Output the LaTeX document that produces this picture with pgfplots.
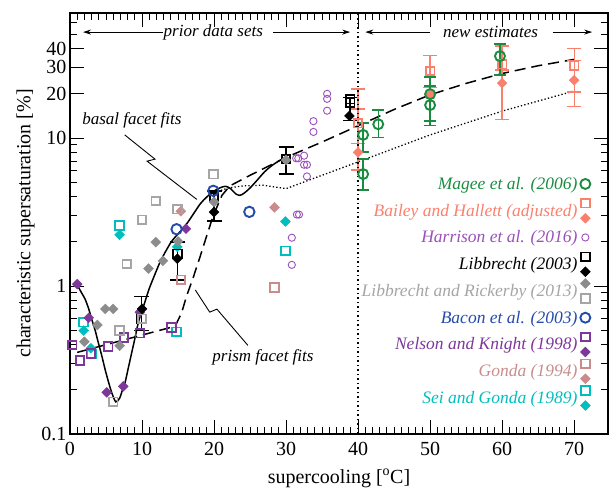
\documentclass[border=0pt]{standalone}
\usepackage{fontspec}
\setmainfont{Liberation Serif}
\usepackage{pgfplots}
\pgfplotsset{compat=1.18}
\usetikzlibrary{arrows.meta}
\definecolor{mgreen}{RGB}{26,140,64}
\definecolor{salm}{RGB}{250,128,110}
\definecolor{harr}{RGB}{155,80,185}
\definecolor{gdia}{RGB}{140,140,140}
\definecolor{gsq}{RGB}{165,165,165}
\definecolor{bacon}{RGB}{35,75,170}
\definecolor{nelson}{RGB}{125,55,155}
\definecolor{gonda}{RGB}{200,140,140}
\definecolor{sei}{RGB}{0,190,190}
\pgfplotsset{
  sq/.style={only marks, mark=square, mark size=4.3pt, line width=1.8pt},
  dm/.style={only marks, mark=square*, mark size=3.5pt, mark options={rotate=45, line width=0.4pt}},
  ci/.style={only marks, mark=o, mark size=5.2pt, line width=1.9pt},
}
\begin{document}
\begin{tikzpicture}
\begin{axis}[
  scale only axis, width=538pt, height=421pt,
  xmin=0, xmax=74.7, ymode=log, ymin=0.1, ymax=70,
  xtick={0,10,...,70}, minor x tick num=9,
  ytick={0.1,1,10,20,30,40}, yticklabels={0.1,1,10,20,30,40},
  minor ytick={0.2,0.3,0.4,0.5,0.6,0.7,0.8,0.9,2,3,4,5,6,7,8,9,50,60},
  tick align=inside, major tick length=14pt, minor tick length=7pt,
  every tick/.style={black, line width=0.9pt},
  axis line style={line width=1.3pt},
  /pgf/number format/assume math mode=true,
  ticklabel style={font=\fontsize{20}{22}\selectfont},
  xticklabel style={yshift=-5pt},
  label style={font=\fontsize{20}{22}\selectfont},
  xlabel style={yshift=-6.5pt},
  xlabel={supercooling [\textsuperscript{o}C]},
  ylabel={characteristic supersaturation [\%]},
  legend style={draw=none, fill=none, at={(0.975,0.63)}, anchor=north east,
    font=\fontsize{17.5}{19}\selectfont\itshape, row sep=0.75pt},
  legend cell align=right, legend plot pos=right,
]
% fit lines
\addplot[black, line width=1.5pt, dash pattern=on 11pt off 6pt, forget plot] coordinates {
(1.0,0.356) (14.6,0.535) (15.5,0.66) (16.2,0.86) (17.0,1.1) (18.1,1.6) (19.0,2.2) (19.9,3.0) (21.1,4.1) (22.2,4.75) (25,5.6) (30,7.4) (35,9.4) (40,12.1) (45,15.6) (50,19.6) (55,23.4) (60,27.3) (65,30.8) (70,34)};
\addplot[black, line width=1.3pt, dash pattern=on 1.3pt off 2.2pt, forget plot] coordinates {
(20.5,4.35) (22,4.6) (24,4.75) (26.8,4.8) (30,4.55) (40,6.9) (50,10.5) (60,15.2) (70,20.8)};
\addplot[black, line width=1.5pt, smooth, forget plot] coordinates {
(1.0,1.02) (1.6,0.9) (2.1,0.815) (2.6,0.7) (3.0,0.6) (3.5,0.5) (3.9,0.42) (4.4,0.34) (4.9,0.27) (5.4,0.22) (5.8,0.19) (6.35,0.165) (6.9,0.175) (7.3,0.2) (7.65,0.223) (8.1,0.28) (8.6,0.36) (9.0,0.44) (9.5,0.57) (10.0,0.68) (10.4,0.78) (11.0,0.96) (11.7,1.17) (12.5,1.45) (13.3,1.72) (14.1,2.0) (15.0,2.25) (16.0,2.55) (17.0,3.0) (18.1,3.6) (19.0,4.0) (19.9,4.35) (20.8,4.6) (21.6,4.72) (22.3,4.55) (23.0,4.2) (23.6,4.1) (24.2,4.25) (25.0,4.6) (26.0,5.2) (27.0,5.9) (28.0,6.5) (29.0,7.0) (30.0,7.4)};
% Gonda (1994)
\addplot[sq, gonda, forget plot] coordinates {(15.4,1.1) (28.4,0.98)};
\addplot[dm, gonda, forget plot] coordinates {(15.4,3.2) (28.4,3.4)};
% Sei and Gonda (1989)
\addplot[sq, sei, forget plot] coordinates {(1.9,0.57) (3.0,0.347) (6.9,2.56) (14.8,0.49) (29.9,1.73)};
\addplot[dm, sei, forget plot] coordinates {(1.9,0.50) (2.9,0.38) (6.9,2.22) (14.9,1.84) (29.9,2.73)};
% Nelson and Knight (1998)
\addplot[sq, nelson, forget plot] coordinates {(0.3,0.40) (1.4,0.313) (2.9,0.35) (5.3,0.39) (7.5,0.45) (9.7,0.48) (14.1,0.526)};
\addplot[dm, nelson, forget plot] coordinates {(1.0,1.03) (2.6,0.61) (5.1,0.191) (7.4,0.21) (9.7,0.664) (16.1,2.44)};
% Libbrecht (2003)
\addplot[sq, black, forget plot, error bars/.cd, y dir=both, y explicit,
  error bar style={line width=1.5pt, black}, error mark options={rotate=90, black, line width=1.5pt, mark size=7.5pt}] coordinates {
(9.9,0.60) += (0,0.25) -= (0,0.10)
(14.9,1.65) += (0,0.34) -= (0,0.55)
(20,4.0) += (0,0.4) -= (0,1.25)
(30,7.2) += (0,1.5) -= (0,1.5)
(38.9,17.3) += (0,1.5) -= (0,4.2)};
\addplot[sq, black, forget plot] coordinates {(38.9,18.3)};
\addplot[dm, black, forget plot] coordinates {(10,0.70) (14.9,1.53) (20,3.16) (38.8,14.1)};
% Libbrecht and Rickerby (2013)
\addplot[sq, gsq, forget plot] coordinates {(6.9,0.50) (6.0,0.165) (7.9,1.41) (10,2.8) (11.9,3.75) (14.9,3.3) (19.9,5.7) (10,0.6)};
\addplot[dm, gdia, forget plot] coordinates {(2.0,0.42) (3.8,0.545) (4.9,0.70) (6.0,0.70) (6.9,0.395) (10.9,1.31) (11.9,1.98) (12.9,1.48) (15,2.0) (20,3.7) (30,7.1)};
% Bacon et al. (2003)
\addplot[ci, bacon, forget plot] coordinates {(14.8,2.42) (19.9,4.4) (24.9,3.17)};
% Harrison et al. (2016)
\addplot[only marks, mark=o, mark size=3.6pt, line width=0.9pt, harr, forget plot] coordinates {
(35.7,19.9) (35.7,18.4) (35.7,15.3) (33.8,13.0) (33.8,11.0) (31.4,7.3) (31.7,7.3) (32.5,7.6) (32.5,6.6) (32.9,6.6) (32.9,5.5) (31.5,3.04) (31.8,3.04) (30.8,2.12) (30.8,1.39)};
% Bailey and Hallett (adjusted)
\addplot[dm, salm, forget plot, error bars/.cd, y dir=both, y explicit,
  error bar style={line width=1.3pt, salm}, error mark options={rotate=90, salm, line width=1.3pt, mark size=7pt}] coordinates {
(40,8.0) += (0,13.4) -= (0,1.93)
(60,23.5) += (0,5.3) -= (0,10.1)
(70,24.6) += (0,9.0) -= (0,8.2)};
\addplot[dm, salm, forget plot] coordinates {(50,19.8)};
\addplot[sq, salm, forget plot, error bars/.cd, y dir=both, y explicit,
  error bar style={line width=1.3pt, salm}, error mark options={rotate=90, salm, line width=1.3pt, mark size=7pt}] coordinates {
(40,12.6) += (0,3.1) -= (0,3.4)
(50,28.4) += (0,7.6) -= (0,6.4)
(60,31.6) += (0,10.3) -= (0,2.8)
(70,31.0) += (0,9.5) -= (0,10.5)};
% Magee et al. (2006)
\addplot[ci, mgreen, mark size=5pt, forget plot, error bars/.cd, y dir=both, y explicit,
  error bar style={line width=1.5pt, mgreen}, error mark options={rotate=90, mgreen, line width=1.5pt, mark size=6pt}] coordinates {
(40.7,10.5) += (0,2.1) -= (0,2.44)
(40.7,5.71) += (0,1.5) -= (0,1.26)
(42.8,12.4) += (0,3.1) -= (0,2.3)
(50,19.8) += (0,6.0) -= (0,6.8)
(50,16.7) += (0,5.8) -= (0,4.5)
(59.7,35.8) += (0,7.3) -= (0,9.1)};
% legend
\addlegendimage{legend image code/.code={\path[draw=none,fill=none] (0pt,-13pt) rectangle (12pt,13pt);
  \draw[mgreen, line width=1.9pt, mark=o, mark size=5pt, only marks] plot coordinates {(6pt,0pt)};}}
\addlegendentry{\textcolor{mgreen}{Magee et al. (2006)}}
\addlegendimage{legend image code/.code={\path[draw=none,fill=none] (0pt,-13pt) rectangle (12pt,13pt);
  \draw[salm, line width=1.8pt, mark=square, mark size=4.3pt, only marks] plot coordinates {(6pt,7.5pt)};
  \draw[salm, fill=salm, line width=0.4pt, mark=square*, mark size=3.5pt, mark options={rotate=45}, only marks] plot coordinates {(6pt,-7.5pt)};}}
\addlegendentry{\textcolor{salm}{Bailey and Hallett (adjusted)}}
\addlegendimage{legend image code/.code={\path[draw=none,fill=none] (0pt,-13pt) rectangle (12pt,13pt);
  \draw[harr, line width=0.9pt, mark=o, mark size=3.6pt, only marks] plot coordinates {(6pt,0pt)};}}
\addlegendentry{\textcolor{harr}{Harrison et al. (2016)}}
\addlegendimage{legend image code/.code={\path[draw=none,fill=none] (0pt,-13pt) rectangle (12pt,13pt);
  \draw[black, line width=1.8pt, mark=square, mark size=4.3pt, only marks] plot coordinates {(6pt,7.5pt)};
  \draw[black, fill=black, line width=0.4pt, mark=square*, mark size=3.5pt, mark options={rotate=45}, only marks] plot coordinates {(6pt,-7.5pt)};}}
\addlegendentry{\textcolor{black}{Libbrecht (2003)}}
\addlegendimage{legend image code/.code={\path[draw=none,fill=none] (0pt,-13pt) rectangle (12pt,13pt);
  \draw[gdia, fill=gdia, line width=0.4pt, mark=square*, mark size=3.5pt, mark options={rotate=45}, only marks] plot coordinates {(6pt,7.5pt)};
  \draw[gsq, line width=1.8pt, mark=square, mark size=4.3pt, only marks] plot coordinates {(6pt,-7.5pt)};}}
\addlegendentry{\textcolor{gsq}{Libbrecht and Rickerby (2013)}}
\addlegendimage{legend image code/.code={\path[draw=none,fill=none] (0pt,-13pt) rectangle (12pt,13pt);
  \draw[bacon, line width=1.9pt, mark=o, mark size=5pt, only marks] plot coordinates {(6pt,0pt)};}}
\addlegendentry{\textcolor{bacon}{Bacon et al. (2003)}}
\addlegendimage{legend image code/.code={\path[draw=none,fill=none] (0pt,-13pt) rectangle (12pt,13pt);
  \draw[nelson, line width=1.8pt, mark=square, mark size=4.3pt, only marks] plot coordinates {(6pt,7.5pt)};
  \draw[nelson, fill=nelson, line width=0.4pt, mark=square*, mark size=3.5pt, mark options={rotate=45}, only marks] plot coordinates {(6pt,-7.5pt)};}}
\addlegendentry{\textcolor{nelson}{Nelson and Knight (1998)}}
\addlegendimage{legend image code/.code={\path[draw=none,fill=none] (0pt,-13pt) rectangle (12pt,13pt);
  \draw[gonda, line width=1.8pt, mark=square, mark size=4.3pt, only marks] plot coordinates {(6pt,7.5pt)};
  \draw[gonda, fill=gonda, line width=0.4pt, mark=square*, mark size=3.5pt, mark options={rotate=45}, only marks] plot coordinates {(6pt,-7.5pt)};}}
\addlegendentry{\textcolor{gonda}{Gonda (1994)}}
\addlegendimage{legend image code/.code={\path[draw=none,fill=none] (0pt,-13pt) rectangle (12pt,13pt);
  \draw[sei, line width=1.8pt, mark=square, mark size=4.3pt, only marks] plot coordinates {(6pt,7.5pt)};
  \draw[sei, fill=sei, line width=0.4pt, mark=square*, mark size=3.5pt, mark options={rotate=45}, only marks] plot coordinates {(6pt,-7.5pt)};}}
\addlegendentry{\textcolor{sei}{Sei and Gonda (1989)}}
% separator and annotations
\draw[black, line width=1.4pt, dash pattern=on 1.5pt off 3pt] (axis cs:40,0.1) -- (axis cs:40,70);
\begin{scope}[font=\fontsize{17}{19}\selectfont\itshape]
\node at (axis cs:19.9,52) {prior data sets};
\draw[line width=0.9pt, -{Stealth[length=8pt,width=5pt]}] (axis cs:12.9,52) -- (axis cs:1.8,52);
\draw[line width=0.9pt, -{Stealth[length=8pt,width=5pt]}] (axis cs:28.2,52) -- (axis cs:38.9,52);
\node at (axis cs:58.4,52) {new estimates};
\draw[line width=0.9pt, -{Stealth[length=8pt,width=5pt]}] (axis cs:50,52) -- (axis cs:41,52);
\draw[line width=0.9pt, -{Stealth[length=8pt,width=5pt]}] (axis cs:67,52) -- (axis cs:72.5,52);
\node at (axis cs:8.6,13.1) {basal facet fits};
\draw[line width=0.9pt] (axis cs:7.6,10.5) -- (axis cs:11.8,7.2) -- (axis cs:10.7,6.98) -- (axis cs:17.6,3.85);
\node at (axis cs:26.8,0.329) {prism facet fits};
\draw[line width=0.9pt] (axis cs:24.7,0.397) -- (axis cs:20.4,0.698) -- (axis cs:19.4,0.666) -- (axis cs:17.4,0.94);
\end{scope}
\end{axis}
\pgfresetboundingbox
\path[use as bounding box] ([shift={(-70pt,-54pt)}]current axis.south west) rectangle ([shift={(1pt,13pt)}]current axis.north east);
\end{tikzpicture}
\end{document}
